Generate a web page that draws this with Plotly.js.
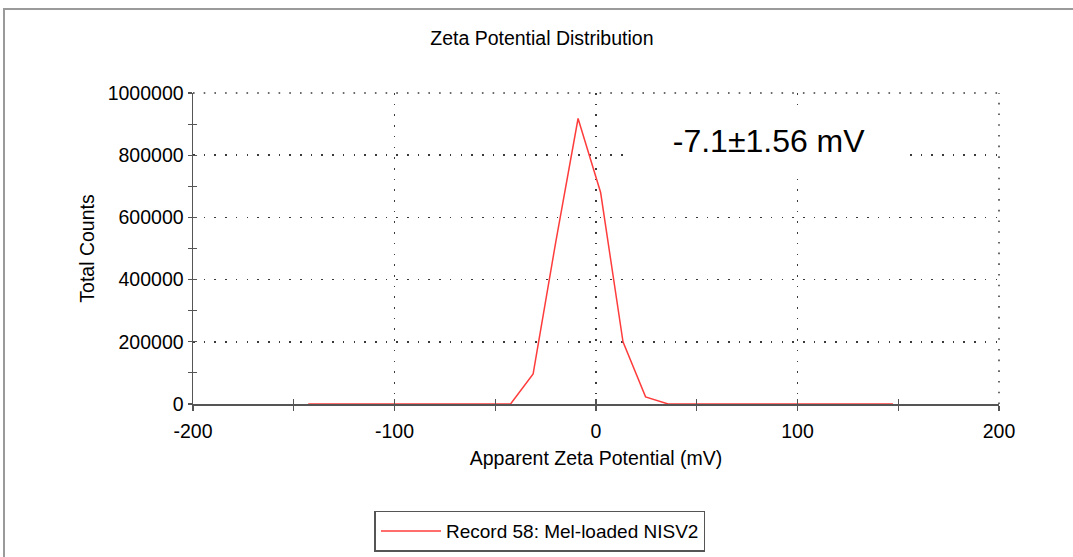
<!DOCTYPE html>
<html>
<head>
<meta charset="utf-8">
<script src="https://cdn.plot.ly/plotly-3.0.1.min.js"></script>
<style>
html,body{margin:0;padding:0;background:#fff;}
#chart{width:1073px;height:557px;}
</style>
</head>
<body>
<div id="chart"></div>
<script>
// Apparent zeta potential (mV)
const zeta = [-142.8, -131.6, -120.5, -109.3, -98.2, -87.0, -75.8, -64.7, -53.5, -42.4,
              -31.2, -20.0, -8.9, 2.3, 13.4, 24.6, 35.8, 46.9, 58.1, 69.2,
              80.4, 91.6, 102.7, 113.9, 125.0, 136.2, 147.4];
// Total counts
const counts = [0, 0, 0, 0, 0, 0, 0, 0, 0, 0,
                97000, 520000, 918000, 680000, 200000, 23000, 0, 0, 0, 0,
                0, 0, 0, 0, 0, 0, 0];
const xTickVals = [-200, -100, 0, 100, 200];
const xTickText = ['-200', '-100', '0', '100', '200'];
const yTickVals = [0, 200000, 400000, 600000, 800000, 1000000];
const yTickText = ['0', '200000', '400000', '600000', '800000', '1000000'];
const seriesName = 'Record 58: Mel-loaded NISV2';
const chartTitle = 'Zeta Potential Distribution';
const xTitle = 'Apparent Zeta Potential (mV)';
const yTitle = 'Total Counts';
const resultLabel = '-7.1±1.56 mV';
const resultPos = {x: 86, y: 845000};

const FONT = 'Liberation Sans, Arial, Helvetica, sans-serif';
const FS = 19.5;
const AX = '#555555';
const GRID = '#3a3a3a';
const DOT = '1.6px,9.1px';

const traces = [
  {
    x: zeta, y: counts, type: 'scatter', mode: 'lines',
    name: seriesName,
    line: {color: '#ff3c3c', width: 1.5},
    hoverinfo: 'x+y'
  },
  {
    x: [null], y: [null], xaxis: 'x2', yaxis: 'y2', type: 'scatter', mode: 'lines',
    showlegend: false, hoverinfo: 'skip'
  }
];

const layout = {
  width: 1073, height: 557,
  margin: {l: 193, r: 74, t: 93, b: 153, autoexpand: false},
  paper_bgcolor: '#ffffff', plot_bgcolor: '#ffffff',
  font: {family: FONT, color: '#000', size: FS},
  title: {
    text: chartTitle, font: {family: FONT, size: FS, color: '#000'},
    xref: 'container', x: 0.505, xanchor: 'center',
    yref: 'container', y: 1 - 38/557, yanchor: 'middle'
  },
  xaxis: {
    range: [-200, 200], tickmode: 'array', tickvals: xTickVals, ticktext: xTickText,
    showline: true, linecolor: AX, linewidth: 1.5, zeroline: false, layer: 'below traces',
    ticks: 'outside', ticklen: 5, tickwidth: 1.2, tickcolor: AX,
    ticklabelstandoff: 4,
    minor: {dtick: 50, tick0: 0, ticks: 'outside', ticklen: 5, tickwidth: 1.2, tickcolor: AX, showgrid: false},
    showgrid: true, gridcolor: GRID, gridwidth: 1.5, griddash: DOT,
    tickfont: {size: FS},
    title: {text: xTitle, font: {size: FS}, standoff: 10},
    fixedrange: true, automargin: false
  },
  yaxis: {
    range: [0, 1000000], tickmode: 'array', tickvals: yTickVals, ticktext: yTickText,
    showline: true, linecolor: AX, linewidth: 1.5, zeroline: false, layer: 'below traces',
    ticks: 'outside', ticklen: 4, tickwidth: 1.2, tickcolor: AX,
    minor: {dtick: 100000, tick0: 0, ticks: 'outside', ticklen: 4, tickwidth: 1.2, tickcolor: AX, showgrid: false},
    showgrid: true, gridcolor: GRID, gridwidth: 1.5, griddash: DOT,
    tickfont: {size: FS},
    title: {text: yTitle, font: {size: FS}, standoff: 8},
    fixedrange: true, automargin: false
  },
  xaxis2: {
    overlaying: 'x', anchor: 'y', range: [-200, 200], tickmode: 'array', tickvals: xTickVals,
    showticklabels: false, showgrid: false, zeroline: false, showline: false,
    ticks: 'inside', ticklen: 5, tickwidth: 1.2, tickcolor: AX,
    minor: {dtick: 50, tick0: 0, ticks: 'inside', ticklen: 5, tickwidth: 1.2, tickcolor: AX, showgrid: false},
    fixedrange: true
  },
  yaxis2: {
    overlaying: 'y', anchor: 'x', side: 'left', range: [0, 1000000], tickmode: 'array', tickvals: yTickVals,
    showticklabels: false, showgrid: false, zeroline: false, showline: false,
    ticks: 'inside', ticklen: 4, tickwidth: 1.2, tickcolor: AX,
    minor: {dtick: 100000, tick0: 0, ticks: 'inside', ticklen: 4, tickwidth: 1.2, tickcolor: AX, showgrid: false},
    fixedrange: true
  },
  showlegend: true,
  legend: {
    orientation: 'h', x: 0.4305, xanchor: 'center', y: -0.343, yanchor: 'top',
    bordercolor: '#555555', borderwidth: 1.5, bgcolor: '#ffffff',
    font: {size: 19}, itemwidth: 60
  },
  annotations: [
    {
      x: resultPos.x, y: resultPos.y, xref: 'x', yref: 'y', text: resultLabel,
      showarrow: false, font: {size: 32, color: '#000'},
      bgcolor: '#ffffff', width: 272, height: 56, borderpad: 2, align: 'center'
    }
  ],
  shapes: [
    // dotted grid lines along the top and right edges of the plotting area
    {type: 'line', xref: 'paper', yref: 'paper', x0: 0, x1: 1, y0: 1, y1: 1, layer: 'below',
     line: {color: GRID, width: 1.5, dash: DOT}},
    {type: 'line', xref: 'paper', yref: 'paper', x0: 1, x1: 1, y0: 0, y1: 1, layer: 'below',
     line: {color: GRID, width: 1.5, dash: DOT}},
    // outer window frame
    {type: 'line', xref: 'paper', yref: 'paper', x0: -0.2357, x1: 1.1, y0: 1.2701, y1: 1.2701,
     line: {color: '#9a9a9a', width: 2}},
    {type: 'line', xref: 'paper', yref: 'paper', x0: -0.2345, x1: -0.2345, y0: 1.2701, y1: -0.55,
     line: {color: '#9a9a9a', width: 2}}
  ]
};

Plotly.newPlot('chart', traces, layout, {displayModeBar: false, staticPlot: true});
</script>
</body>
</html>
